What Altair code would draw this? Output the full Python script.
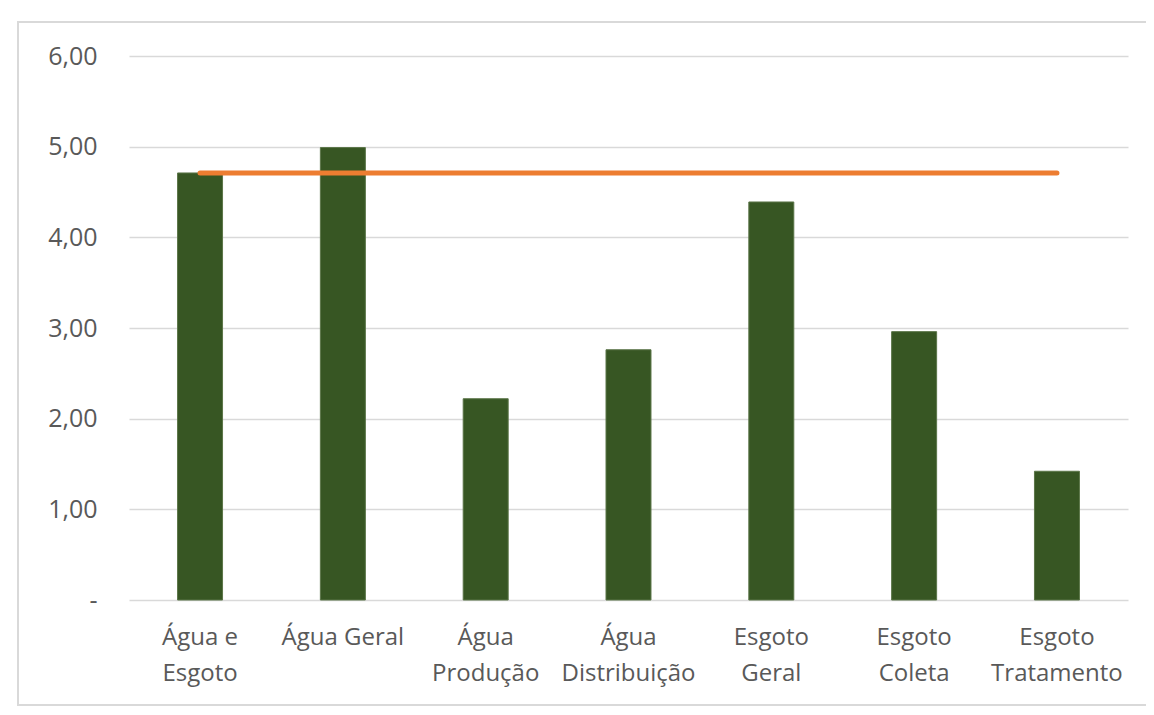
import altair as alt
import pandas as pd

categories = ["Água e|Esgoto", "Água Geral", "Água|Produção", "Água|Distribuição",
              "Esgoto|Geral", "Esgoto|Coleta", "Esgoto|Tratamento"]
values = [4.71, 4.99, 2.22, 2.76, 4.39, 2.96, 1.42]
reference = [4.71] * 7

df = pd.DataFrame({"cat": categories, "value": values, "ref": reference})

FONT = "Open Sans"
GRAY = "#595959"

x_enc = alt.X("cat:N", sort=categories, title=None,
              scale=alt.Scale(paddingInner=0.685, paddingOuter=0.34),
              axis=alt.Axis(labelAngle=0, labelExpr="split(datum.label, '|')",
                            labelFontSize=24, labelFont=FONT, labelColor=GRAY,
                            labelLineHeight=36, labelPadding=25, ticks=False,
                            domain=False, grid=False))
y_scale = alt.Scale(domain=[0, 6])

frame = alt.Chart(df).mark_rect(fillOpacity=0, stroke="#d9d9d9", strokeWidth=2).encode(
    x=alt.value(-111), x2=alt.value(1030), y=alt.value(-34), y2=alt.value(649)
)

bars = alt.Chart(df).mark_bar(color="#375623", stroke="#5b7548", strokeWidth=1).encode(
    x=x_enc,
    y=alt.Y("value:Q", scale=y_scale, title=None,
            axis=alt.Axis(values=[0, 1, 2, 3, 4, 5, 6], labelFontSize=25, labelFont=FONT,
                          labelColor=GRAY, labelPadding=32, ticks=False, domain=False,
                          gridColor="#d9d9d9", gridWidth=1.5,
                          labelExpr="datum.value == 0 ? '-' : replace(format(datum.value, '.2f'), '.', ',')")),
)

line = alt.Chart(df).mark_line(color="#ED7D31", strokeWidth=5, strokeCap="round").encode(
    x=alt.X("cat:N", sort=categories),
    y=alt.Y("ref:Q", scale=y_scale),
)

chart = alt.layer(frame, bars, line).properties(
    width=999, height=544,
    autosize=alt.AutoSizeParams(type="none"),
    padding={"left": 121, "top": 48, "right": 18, "bottom": 107},
    background="white",
).configure_view(strokeWidth=0)

chart.save("out.html", embed_options={"renderer": "svg", "actions": False})
